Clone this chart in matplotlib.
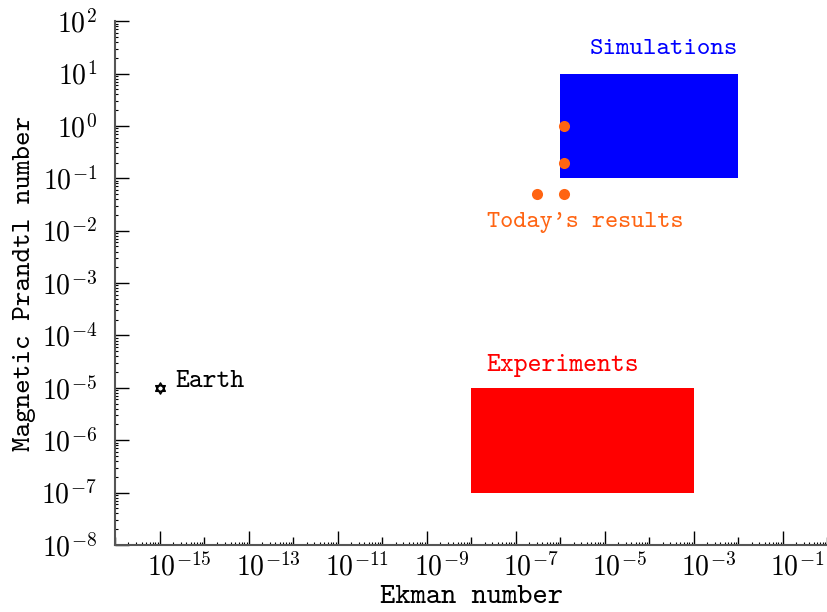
import matplotlib
matplotlib.use('Agg')
import matplotlib.pyplot as plt
import matplotlib.ticker as mticker
import matplotlib.transforms as mtransforms
from matplotlib.path import Path
import numpy as np

# data
sim_ek = [1e-6, 1e-2]
sim_pm = [1e-1, 1e1]
exp_ek = [1e-8, 1e-3]
exp_pm = [1e-7, 1e-5]
today_ek = [1.2e-6, 1.2e-6, 1.2e-6, 3e-7]
today_pm = [1.0, 0.2, 0.05, 0.05]
earth_ek = [1e-15]
earth_pm = [1e-5]

x_exp = np.arange(-16, 1)
y_exp = np.arange(-8, 3)

plt.rcParams['font.family'] = ['cmtt10', 'DejaVu Sans']
plt.rcParams['mathtext.fontset'] = 'cm'
plt.rcParams['axes.unicode_minus'] = True

fig = plt.figure(figsize=(8.28, 6.12), dpi=100)
ax = fig.add_axes([0.139, 0.1095, 0.86, 0.856])
ax.set_xscale('log')
ax.set_yscale('log')
ax.set_xlim(10.0**x_exp[0], 10.0**x_exp[-1])
ax.set_ylim(10.0**y_exp[0], 10.0**y_exp[-1])

# boxes
ax.fill_between(sim_ek, sim_pm[0], sim_pm[1], color='#0000ff', lw=0)
ax.fill_between(exp_ek, exp_pm[0], exp_pm[1], color='#ff0000', lw=0)

orange = '#ff6412'
ax.plot(today_ek, today_pm, 'o', color=orange, ms=8, mec='none')

# star of David marker (two triangles about the same centre)
a1 = np.deg2rad([90, 210, 330, 90])
a2 = np.deg2rad([270, 30, 150, 270])
verts = list(zip(np.cos(a1), np.sin(a1))) + list(zip(np.cos(a2), np.sin(a2)))
codes = [Path.MOVETO, Path.LINETO, Path.LINETO, Path.CLOSEPOLY] * 2
star = Path(verts, codes)
ax.plot(earth_ek, earth_pm, marker=star, ls='none', mfc='none', mec='black',
        ms=8, mew=1.1)

ax.text(10**-5.34, 10**1.45, 'Simulations', color='#0000ff', fontsize=18.5, va='center')
ax.text(10**-7.65, 10**-4.57, 'Experiments', color='#ff0000', fontsize=19, va='center')
ax.text(10**-7.65, 10**-1.85, "Today's results", color=orange, fontsize=18, va='center')
ax.text(10**-14.64, 10**-4.87, 'Earth', color='black', fontsize=19, va='center')

ax.set_xlabel('Ekman number', fontsize=21, labelpad=2)
ax.set_ylabel('Magnetic Prandtl number', fontsize=20, labelpad=4)

for s in ['top', 'right']:
    ax.spines[s].set_visible(False)
for s in ['left', 'bottom']:
    ax.spines[s].set_color('#555555')
    ax.spines[s].set_linewidth(1.5)

# ticks only inside the axis range
x_minor = [m * 10.0**e for e in x_exp[:-1] for m in range(2, 10)]
y_minor = [m * 10.0**e for e in y_exp[:-1] for m in range(2, 10)]
ax.xaxis.set_major_locator(mticker.FixedLocator(10.0**x_exp))
ax.yaxis.set_major_locator(mticker.FixedLocator(10.0**y_exp))
ax.xaxis.set_minor_locator(mticker.FixedLocator(x_minor))
ax.yaxis.set_minor_locator(mticker.FixedLocator(y_minor))
ax.xaxis.set_minor_formatter(mticker.NullFormatter())
ax.yaxis.set_minor_formatter(mticker.NullFormatter())

x_labels = [r'$10^{%d}$' % e if e % 2 else '' for e in x_exp]
y_labels = [r'$10^{%d}$' % e for e in y_exp]
ax.xaxis.set_major_formatter(mticker.FixedFormatter(x_labels))
ax.yaxis.set_major_formatter(mticker.FixedFormatter(y_labels))

ax.tick_params(which='major', direction='in', length=10, width=1, labelsize=20)
ax.tick_params(axis='x', which='major', pad=6)
ax.tick_params(axis='y', which='major', pad=13)
ax.tick_params(which='minor', direction='in', length=2.5, width=0.8)

fig.canvas.draw()
shift = mtransforms.ScaledTranslation(-0.13, 0, fig.dpi_scale_trans)
for t, e in zip(ax.xaxis.get_major_ticks(), x_exp):
    if e % 2 == 0:
        t.tick1line.set_markersize(6)
    t.label1.set_horizontalalignment('left')
    t.label1.set_transform(t.label1.get_transform() + shift)

fig.savefig('out.png', dpi=100)
